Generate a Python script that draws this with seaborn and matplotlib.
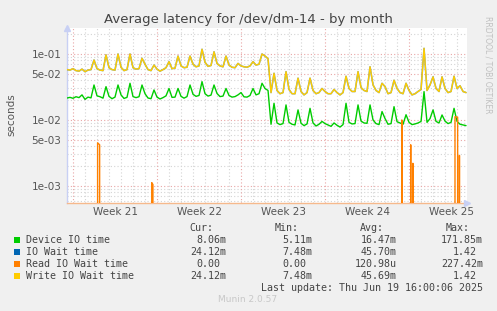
import numpy as np
import matplotlib
matplotlib.use("Agg")
import matplotlib.pyplot as plt
import seaborn as sns

# ---------------- data ----------------
step_days = 0.25  # one sample every 6 hours, day 0 = left edge of plot

device_io = [
    0.0215, 0.0220, 0.0213, 0.0225,
    0.0218, 0.0240, 0.0205, 0.0222,
    0.0216, 0.0339, 0.0232, 0.0225,
    0.0214, 0.0320, 0.0228, 0.0210,
    0.0222, 0.0339, 0.0240, 0.0212,
    0.0220, 0.0360, 0.0226, 0.0218,
    0.0225, 0.0339, 0.0250, 0.0215,
    0.0210, 0.0285, 0.0222, 0.0208,
    0.0218, 0.0232, 0.0300, 0.0220,
    0.0222, 0.0300, 0.0228, 0.0214,
    0.0226, 0.0339, 0.0245, 0.0228,
    0.0235, 0.0381, 0.0250, 0.0230,
    0.0238, 0.0339, 0.0252, 0.0226,
    0.0230, 0.0300, 0.0235, 0.0222,
    0.0226, 0.0240, 0.0260, 0.0224,
    0.0222, 0.0235, 0.0300, 0.0240,
    0.0250, 0.0360, 0.0300, 0.0280,
    0.0086, 0.0179, 0.0090, 0.0085,
    0.0088, 0.0169, 0.0092, 0.0086,
    0.0084, 0.0142, 0.0089, 0.0082,
    0.0087, 0.0150, 0.0090, 0.0081,
    0.0086, 0.0095, 0.0088, 0.0084,
    0.0080, 0.0090, 0.0083, 0.0078,
    0.0085, 0.0179, 0.0092, 0.0087,
    0.0088, 0.0169, 0.0096, 0.0090,
    0.0089, 0.0169, 0.0100, 0.0088,
    0.0085, 0.0134, 0.0105, 0.0086,
    0.0088, 0.0159, 0.0094, 0.0090,
    0.0086, 0.0120, 0.0092, 0.0085,
    0.0087, 0.0090, 0.0095, 0.0269,
    0.0092, 0.0105, 0.0142, 0.0095,
    0.0090, 0.0119, 0.0096, 0.0088,
    0.0092, 0.0150, 0.0095, 0.0086,
    0.0084, 0.0082,
]

write_wait = [
    0.058, 0.057, 0.060, 0.056,
    0.055, 0.059, 0.054, 0.057,
    0.058, 0.081, 0.060, 0.057,
    0.056, 0.097, 0.062, 0.058,
    0.057, 0.100, 0.063, 0.056,
    0.058, 0.100, 0.062, 0.059,
    0.060, 0.086, 0.070, 0.058,
    0.056, 0.068, 0.059, 0.055,
    0.058, 0.062, 0.0765, 0.060,
    0.061, 0.093, 0.066, 0.062,
    0.063, 0.093, 0.070, 0.064,
    0.066, 0.118, 0.075, 0.065,
    0.067, 0.108, 0.072, 0.066,
    0.064, 0.093, 0.068, 0.063,
    0.062, 0.072, 0.066, 0.064,
    0.063, 0.066, 0.0765, 0.068,
    0.070, 0.100, 0.093, 0.085,
    0.026, 0.051, 0.028, 0.025,
    0.026, 0.054, 0.029, 0.025,
    0.025, 0.043, 0.027, 0.024,
    0.026, 0.043, 0.028, 0.025,
    0.026, 0.030, 0.027, 0.025,
    0.025, 0.029, 0.026, 0.024,
    0.026, 0.046, 0.030, 0.027,
    0.027, 0.054, 0.031, 0.028,
    0.027, 0.064, 0.034, 0.028,
    0.026, 0.036, 0.032, 0.025,
    0.026, 0.040, 0.030, 0.026,
    0.025, 0.036, 0.028, 0.024,
    0.025, 0.027, 0.029, 0.122,
    0.028, 0.034, 0.045, 0.030,
    0.027, 0.045, 0.030, 0.026,
    0.027, 0.046, 0.030, 0.033,
    0.027, 0.026,
]

# IO wait = read + write; read is ~0, so it is hidden under the write line
io_wait = list(write_wait)

read_days = [0.00, 2.50, 2.55, 2.72, 2.77,
             7.02, 7.06, 7.16, 7.20,
             27.85, 27.90, 27.98,
             28.60, 28.64, 28.72, 28.78, 28.82, 28.88,
             32.28, 32.33, 32.55, 32.60, 32.66, 32.70, 32.76,
             33.25]
read_wait = [0.0, 0.0, 0.0045, 0.0042, 0.0,
             0.0, 0.00112, 0.00105, 0.0,
             0.0, 0.0100, 0.0,
             0.0, 0.0042, 0.0, 0.0, 0.0022, 0.0,
             0.0, 0.0112, 0.0110, 0.0, 0.0, 0.0029, 0.0,
             0.0]

week_labels = ["Week 21", "Week 22", "Week 23", "Week 24", "Week 25"]
week_label_days = [4, 11, 18, 25, 32]
week_start_days = [0.5, 7.5, 14.5, 21.5, 28.5]
ytick_vals = [1e-3, 5e-3, 1e-2, 5e-2, 1e-1]
ytick_labels = ["1e-03", "5e-03", "1e-02", "5e-02", "1e-01"]

legend_names = ["Device IO time", "IO Wait time", "Read IO Wait time", "Write IO Wait time"]
legend_colors = ["#00cc00", "#0066b3", "#ff8000", "#ffcc00"]
cur_vals = ["8.06m", "24.12m", "0.00", "24.12m"]
min_vals = ["5.11m", "7.48m", "0.00", "7.48m"]
avg_vals = ["16.47m", "45.70m", "120.98u", "45.69m"]
max_vals = ["171.85m", "1.42", "227.42m", "1.42"]

# ---------------- figure ----------------
sns.set_theme(style="white")
plt.rcParams["font.family"] = ["DejaVu Sans"]

W, H = 497, 311
BG = "#f0f0f0"
fig = plt.figure(figsize=(W / 100, H / 100), dpi=100, facecolor=BG)

def fx(x):
    return x / W

def fy(y):
    return 1 - y / H

L, R, T, B = 67, 467, 28, 203
ax = fig.add_axes([fx(L), fy(B), (R - L) / W, (B - T) / H])
ax.set_facecolor("white")

days = np.arange(len(device_io)) * step_days

sns.lineplot(x=days, y=io_wait, color=legend_colors[1], lw=1.15, alpha=0.6, ax=ax,
             estimator=None, sort=False, zorder=3)
sns.lineplot(x=days, y=write_wait, color=legend_colors[3], lw=1.0, ax=ax,
             estimator=None, sort=False, zorder=4)
sns.lineplot(x=days, y=device_io, color=legend_colors[0], lw=1.0, ax=ax,
             estimator=None, sort=False, zorder=4)
sns.lineplot(x=read_days, y=read_wait, color=legend_colors[2], lw=1.0, ax=ax,
             estimator=None, sort=False, zorder=5)

ax.set_yscale("log")
ax.set_ylim(5.5e-4, 0.248)
ax.set_xlim(0, 33.33)

# grid
gray = "#d4d4d4"
red = "#e9a6a6"
dash = (0, (1, 2))
for d in np.arange(0.5, 33.3, 1.0):
    if d in week_start_days:
        continue
    ax.axvline(d, color=gray, lw=0.8, ls=dash, zorder=1)
for d in week_start_days:
    ax.axvline(d, color=red, lw=0.8, ls=dash, zorder=2)
for dec in [1e-4, 1e-3, 1e-2, 1e-1]:
    for m in range(1, 10):
        v = m * dec
        if v < 5.5e-4 or v > 0.248:
            continue
        if m in (1, 5):
            ax.axhline(v, color=red, lw=0.8, ls=dash, zorder=2)
        else:
            ax.axhline(v, color=gray, lw=0.8, ls=dash, zorder=1)

ax.set_yticks(ytick_vals)
ax.set_yticklabels(ytick_labels)
ax.yaxis.set_minor_locator(matplotlib.ticker.NullLocator())
ax.set_xticks(week_label_days)
ax.set_xticklabels(week_labels)
ax.tick_params(axis="both", length=0, labelsize=7.5, colors="#555555", pad=3)
ax.tick_params(axis="y", pad=4)
ax.set_xlabel("")
ax.set_ylabel("")

for s in ["top", "right"]:
    ax.spines[s].set_visible(False)
ax.spines["left"].set_color("#c8d0f4")
ax.spines["left"].set_linewidth(1.0)
ax.spines["bottom"].set_color("#f6b98c")
ax.spines["bottom"].set_linewidth(1.0)

# axis arrows (rrdtool style)
ax.plot([0], [1.0], marker="^", ms=4, color="#c8d0f4", transform=ax.transAxes,
        clip_on=False, zorder=6)
ax.plot([1.0], [0], marker=">", ms=4, color="#c8d0f4", transform=ax.transAxes,
        clip_on=False, zorder=6)

# texts
fig.text(fx(248), fy(19), "Average latency for /dev/dm-14 - by month",
         ha="center", va="center", fontsize=9.5, color="#444444")
fig.text(fx(11), fy(115), "seconds", rotation=90, ha="center", va="center",
         fontsize=7.5, color="#555555")
fig.text(fx(488), fy(16), "RRDTOOL / TOBI OETIKER", rotation=270, ha="center",
         va="top", fontsize=5.5, color="#c0c0c0")

mono = "DejaVu Sans Mono"
fs = 7.2
tc = "#444444"
hdr_y = 228
for txt, xr in zip(["Cur:", "Min:", "Avg:", "Max:"], [213, 299, 384, 470]):
    fig.text(fx(xr), fy(hdr_y), txt, ha="right", va="center", family=mono,
             fontsize=fs, color=tc)

col_right = [226, 312, 397, 483]
cols = [cur_vals, min_vals, avg_vals, max_vals]
for i, name in enumerate(legend_names):
    y = 240 + 12 * i
    fig.patches.append(matplotlib.patches.Rectangle(
        (fx(14), fy(y + 3)), 6 / W, 6 / H, transform=fig.transFigure,
        facecolor=legend_colors[i], edgecolor="none"))
    fig.text(fx(26), fy(y), name, ha="left", va="center", family=mono,
             fontsize=fs, color=tc)
    for col, xr in zip(cols, col_right):
        v = col[i]
        off = 0 if v[-1].isalpha() else 6
        fig.text(fx(xr - off), fy(y), v, ha="right", va="center", family=mono,
                 fontsize=fs, color=tc)

fig.text(fx(483), fy(288), "Last update: Thu Jun 19 16:00:06 2025", ha="right",
         va="center", family=mono, fontsize=fs, color=tc)
fig.text(fx(248), fy(300), "Munin 2.0.57", ha="center", va="center",
         fontsize=6.5, color="#c8c8c8")

fig.savefig("out.png", dpi=100, facecolor=BG)
